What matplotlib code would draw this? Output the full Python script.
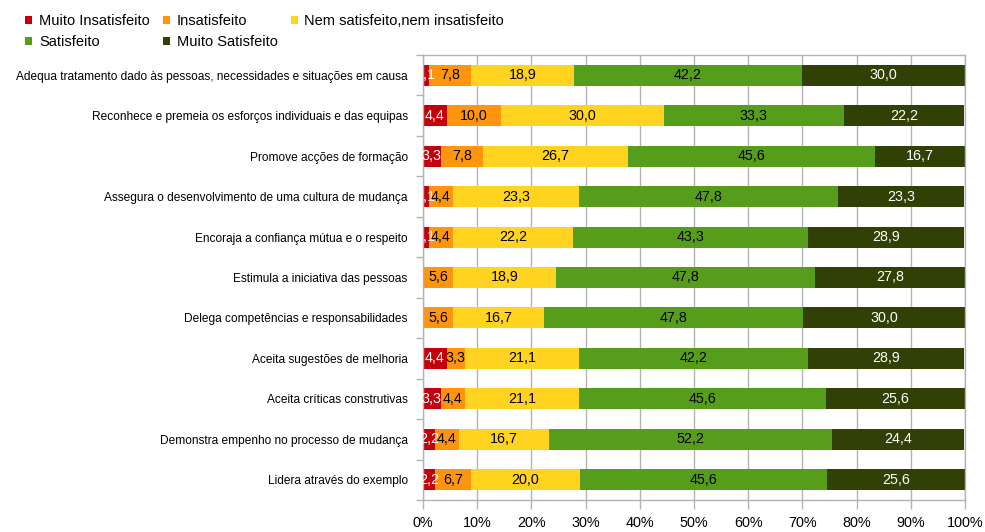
import numpy as np
import matplotlib
matplotlib.use('Agg')
import matplotlib.pyplot as plt
from matplotlib.patches import Patch

plt.rcParams['font.family'] = ['Liberation Sans', 'DejaVu Sans']

# categories, top to bottom
categories = [
    'Adequa tratamento dado às pessoas, necessidades e situações em causa',
    'Reconhece e premeia os esforços individuais e das equipas',
    'Promove acções de formação',
    'Assegura o desenvolvimento de uma cultura de mudança',
    'Encoraja a confiança mútua e o respeito',
    'Estimula a iniciativa das pessoas',
    'Delega competências e responsabilidades',
    'Aceita sugestões de melhoria',
    'Aceita críticas construtivas',
    'Demonstra empenho no processo de mudança',
    'Lidera através do exemplo',
]

series_names = ['Muito Insatisfeito', 'Insatisfeito',
                'Nem satisfeito,nem insatisfeito', 'Satisfeito',
                'Muito Satisfeito']

muito_insat = [1.1, 4.4, 3.3, 1.1, 1.1, 0.0, 0.0, 4.4, 3.3, 2.2, 2.2]
insat = [7.8, 10.0, 7.8, 4.4, 4.4, 5.6, 5.6, 3.3, 4.4, 4.4, 6.7]
nem = [18.9, 30.0, 26.7, 23.3, 22.2, 18.9, 16.7, 21.1, 21.1, 16.7, 20.0]
satisf = [42.2, 33.3, 45.6, 47.8, 43.3, 47.8, 47.8, 42.2, 45.6, 52.2, 45.6]
muito_satisf = [30.0, 22.2, 16.7, 23.3, 28.9, 27.8, 30.0, 28.9, 25.6, 24.4, 25.6]

colors = ['#c5000b', '#ff950e', '#ffd320', '#579d1c', '#314004']
text_colors = ['white', 'black', 'black', 'black', 'white']

data = [muito_insat, insat, nem, satisf, muito_satisf]

fig = plt.figure(figsize=(9.85, 5.32), dpi=100)
ax = fig.add_axes([423/985, 32/532, 542/985, 445/532])

y = np.arange(len(categories))
left = np.zeros(len(categories))
for vals, col, tcol in zip(data, colors, text_colors):
    vals = np.array(vals)
    ax.barh(y, vals, left=left, height=0.52, color=col, linewidth=0, zorder=2)
    for yi, l, v in zip(y, left, vals):
        if v > 0:
            ax.text(l + v/2, yi, f'{v:.1f}'.replace('.', ','), ha='center',
                    va='center', color=tcol, fontsize=10.3, clip_on=True, zorder=3)
    left = left + vals

ax.set_xlim(0, 100)
ax.set_ylim(len(categories) - 0.5, -0.5)
ax.set_xticks(np.arange(0, 101, 10))
ax.set_xticklabels([f'{v}%' for v in range(0, 101, 10)], fontsize=10.4)
ax.set_yticks(y)
ax.set_yticklabels(categories, fontsize=8.6)
ax.set_yticks(np.arange(-0.5, len(categories), 1), minor=True)

grey = '#b3b3b3'
ax.tick_params(axis='y', which='major', length=0, pad=11)
ax.tick_params(axis='y', which='minor', length=5, color=grey, width=1)
ax.tick_params(axis='x', length=6.5, color=grey, width=1, pad=5)
ax.xaxis.grid(True, color=grey, lw=1, zorder=0)
ax.set_axisbelow(True)
for s in ax.spines.values():
    s.set_color(grey)
    s.set_linewidth(1)

# legend filled column by column, so order the handles to read row by row
order = [0, 3, 1, 4, 2]
handles = [Patch(facecolor=colors[i], edgecolor='none') for i in order]
labels = [series_names[i] for i in order]
fig.legend(handles, labels, loc='upper left', bbox_to_anchor=(25/985, 1 - 14/532),
           ncol=3, frameon=False, fontsize=10.5, handlelength=0.5, handleheight=0.5,
           handletextpad=0.45, columnspacing=0.9, labelspacing=0.5,
           borderpad=0, borderaxespad=0)

plt.savefig('out.png', dpi=100)
